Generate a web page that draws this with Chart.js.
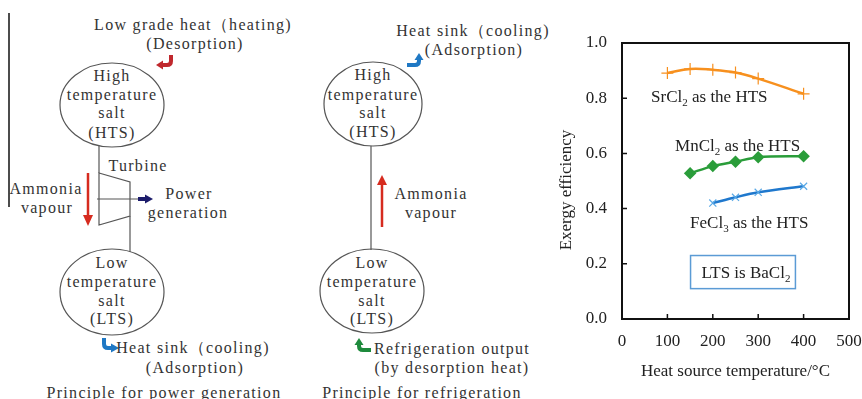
<!DOCTYPE html>
<html>
<head>
<meta charset="utf-8">
<script src="https://cdn.jsdelivr.net/npm/chart.js@4.4.1/dist/chart.umd.min.js"></script>
<style>
  html, body { margin: 0; padding: 0; background: #fff; }
  #wrap { position: relative; width: 862px; height: 399px; overflow: hidden; }
  #diagram { position: absolute; left: 0; top: 0; }
  #chartBox { position: absolute; left: 540px; top: 0; width: 322px; height: 399px; }
</style>
</head>
<body>
<div id="wrap">
<svg id="diagram" width="862" height="399">
  <g stroke="#555" stroke-width="1.2" fill="none">
    <line x1="9" y1="13" x2="9" y2="207" stroke="#111" stroke-width="1.5"/>
    <!-- power generation -->
    <ellipse cx="112" cy="105" rx="52" ry="42"/>
    <ellipse cx="112" cy="292" rx="52" ry="43"/>
    <line x1="99" y1="146" x2="99" y2="173"/>
    <polygon points="99,173 130,182 130,216 99,225"/>
    <line x1="130" y1="216" x2="130" y2="252"/>
    <line x1="97" y1="199" x2="139" y2="199"/>
    <!-- refrigeration -->
    <ellipse cx="373" cy="104" rx="49" ry="42"/>
    <ellipse cx="372" cy="291" rx="52" ry="42"/>
    <line x1="371" y1="146" x2="371" y2="250"/>
  </g>
  <!-- arrows -->
  <line x1="88" y1="173" x2="88" y2="216" stroke="#d62b1f" stroke-width="2.5"/>
  <polygon points="83,215 93,215 88,226" fill="#d62b1f"/>
  <line x1="382" y1="227" x2="382" y2="184" stroke="#d62b1f" stroke-width="2.5"/>
  <polygon points="377,185 387,185 382,175" fill="#d62b1f"/>
  <line x1="138" y1="199" x2="146" y2="199" stroke="#1c1c6b" stroke-width="4"/>
  <polygon points="145,194.5 145,203.5 153,199" fill="#1c1c6b"/>
  <g fill="none" stroke-width="4">
    <path d="M171,55 L171,61 Q171,65 167,65 L162,65" stroke="#c0282d"/>
    <path d="M104,338 L104,344 Q104,348 108,348 L112,348" stroke="#1f78c4"/>
    <path d="M407,65 L415,65 Q419,65 419,61 L419,59" stroke="#1f78c4"/>
    <path d="M371,350 L363,350 Q359,350 359,346 L359,344" stroke="#1e8a3c"/>
  </g>
  <polygon points="163,60.5 163,69.5 156,65" fill="#c0282d"/>
  <polygon points="111,343.5 111,352.5 119,348" fill="#1f78c4"/>
  <polygon points="414.5,60 423.5,60 419,53" fill="#1f78c4"/>
  <polygon points="354.5,345 363.5,345 359,338" fill="#1e8a3c"/>
  <!-- texts -->
  <g dominant-baseline="central" text-anchor="middle" font-family="Liberation Serif, serif"
     font-size="16" fill="#333" letter-spacing="1.3">
    <text x="193" y="24">Low grade heat（heating)</text>
    <text x="195" y="43">(Desorption)</text>
    <text x="112" y="75">High</text>
    <text x="112" y="94">temperature</text>
    <text x="112" y="112">salt</text>
    <text x="112" y="132">(HTS)</text>
    <text x="138" y="165">Turbine</text>
    <text x="46" y="188">Ammonia</text>
    <text x="47" y="207">vapour</text>
    <text x="189" y="193">Power</text>
    <text x="188" y="212">generation</text>
    <text x="112" y="262">Low</text>
    <text x="112" y="281">temperature</text>
    <text x="112" y="300">salt</text>
    <text x="112" y="318">(LTS)</text>
    <text x="193" y="347">Heat sink（cooling)</text>
    <text x="195" y="367">(Adsorption)</text>
    <text x="164" y="392">Principle for power generation</text>

    <text x="473" y="30">Heat sink（cooling)</text>
    <text x="474" y="49">(Adsorption)</text>
    <text x="373" y="74">High</text>
    <text x="373" y="94">temperature</text>
    <text x="373" y="112">salt</text>
    <text x="373" y="131">(HTS)</text>
    <text x="431" y="193">Ammonia</text>
    <text x="431" y="212">vapour</text>
    <text x="372" y="262">Low</text>
    <text x="372" y="281">temperature</text>
    <text x="372" y="300">salt</text>
    <text x="372" y="318">(LTS)</text>
    <text x="452" y="348">Refrigeration output</text>
    <text x="452" y="367">(by desorption heat)</text>
    <text x="422" y="392">Principle for refrigeration</text>
  </g>
</svg>
<div id="chartBox"><canvas id="chart"></canvas></div>
</div>
<script>
// Ejes
const xTicks = [0, 100, 200, 300, 400, 500];
const yTicks = [0, 0.2, 0.4, 0.6, 0.8, 1.0];

// Series (temperatura / eficiencia)
const srTemp = [100, 150, 200, 250, 300, 400];
const srEff = [0.891, 0.906, 0.903, 0.893, 0.871, 0.816];
const mnTemp = [150, 200, 250, 300, 400];
const mnEff = [0.528, 0.554, 0.570, 0.586, 0.590];
const feTemp = [200, 250, 300, 400];
const feEff = [0.420, 0.441, 0.459, 0.481];

// Etiquetas (texto, subíndice, resto)
const srLabel = ['SrCl', '2', ' as the HTS'];
const mnLabel = ['MnCl', '2', ' as the HTS'];
const feLabel = ['FeCl', '3', ' as the HTS'];
const boxLabel = ['LTS is BaCl', '2', ''];
const xTitle = 'Heat source temperature/°C';
const yTitle = 'Exergy efficiency';

const FONT = "'Liberation Serif', serif";

function toPoints(xs, ys) {
    return xs.map((x, i) => ({ x: x, y: ys[i] }));
}

function drawChem(ctx, parts, x, y) {
    ctx.font = '17px ' + FONT;
    ctx.fillText(parts[0], x, y);
    x += ctx.measureText(parts[0]).width;
    ctx.font = '11px ' + FONT;
    ctx.fillText(parts[1], x, y + 4);
    x += ctx.measureText(parts[1]).width;
    ctx.font = '17px ' + FONT;
    ctx.fillText(parts[2], x, y);
    return x + ctx.measureText(parts[2]).width;
}

const extras = {
    id: 'extras',
    afterDraw(chart) {
        const { ctx, chartArea: a, scales: { x, y } } = chart;
        ctx.save();
        // marco
        ctx.strokeStyle = '#111';
        ctx.lineWidth = 2;
        ctx.strokeRect(a.left, a.top, a.width, a.height);
        // marcas hacia dentro
        ctx.lineWidth = 1.5;
        ctx.beginPath();
        xTicks.slice(1, -1).forEach(v => {
            const px = x.getPixelForValue(v);
            ctx.moveTo(px, a.bottom);
            ctx.lineTo(px, a.bottom - 5);
        });
        yTicks.slice(1, -1).forEach(v => {
            const py = y.getPixelForValue(v);
            ctx.moveTo(a.left, py);
            ctx.lineTo(a.left + 5, py);
        });
        ctx.stroke();
        // titulo eje y
        ctx.fillStyle = '#222';
        ctx.font = '17px ' + FONT;
        ctx.textAlign = 'center';
        ctx.textBaseline = 'middle';
        ctx.save();
        ctx.translate(a.left - 55, (a.top + a.bottom) / 2 + 9);
        ctx.rotate(-Math.PI / 2);
        ctx.fillText(yTitle, 0, 0);
        ctx.restore();
        // textos
        ctx.textAlign = 'left';
        ctx.textBaseline = 'alphabetic';
        drawChem(ctx, srLabel, x.getPixelForValue(64), y.getPixelForValue(0.785));
        drawChem(ctx, mnLabel, x.getPixelForValue(117), y.getPixelForValue(0.608));
        drawChem(ctx, feLabel, x.getPixelForValue(150), y.getPixelForValue(0.329));
        // recuadro
        const bx = x.getPixelForValue(151), by = y.getPixelForValue(0.23);
        const bw = x.getPixelForValue(382) - bx, bh = y.getPixelForValue(0.11) - by;
        ctx.strokeStyle = '#5b9bd5';
        ctx.lineWidth = 1.5;
        ctx.strokeRect(bx, by, bw, bh);
        drawChem(ctx, boxLabel, x.getPixelForValue(175), y.getPixelForValue(0.149));
        ctx.restore();
    }
};

new Chart(document.getElementById('chart'), {
    type: 'line',
    data: {
        datasets: [
            {
                data: toPoints(srTemp, srEff),
                borderColor: '#f7901e',
                borderWidth: 2.5,
                pointStyle: 'cross',
                pointRadius: 6,
                pointBorderWidth: 1.2,
                tension: 0.4
            },
            {
                data: toPoints(mnTemp, mnEff),
                borderColor: '#2a9d3a',
                backgroundColor: '#2a9d3a',
                borderWidth: 2.5,
                pointStyle: 'rectRot',
                pointRadius: 4.5,
                pointBackgroundColor: '#2a9d3a',
                tension: 0.3
            },
            {
                data: toPoints(feTemp, feEff),
                borderColor: '#1f78cd',
                borderWidth: 2.5,
                pointStyle: 'crossRot',
                pointRadius: 5,
                pointBorderColor: '#5aa9e6',
                pointBorderWidth: 1.2,
                tension: 0.3
            }
        ]
    },
    options: {
        responsive: true,
        maintainAspectRatio: false,
        animation: false,
        layout: { padding: { top: 43, right: 13, left: 0, bottom: 0 } },
        plugins: { legend: { display: false }, tooltip: { enabled: false } },
        scales: {
            x: {
                type: 'linear',
                min: 0,
                max: 500,
                afterFit: s => { s.height = 80; s.paddingLeft = 0; s.paddingRight = 0; },
                afterBuildTicks: s => { s.ticks = xTicks.map(v => ({ value: v })); },
                grid: { display: false, drawTicks: false },
                border: { display: false },
                ticks: { padding: 12, color: '#222', font: { family: FONT, size: 17 } },
                title: {
                    display: true,
                    text: xTitle,
                    color: '#222',
                    font: { family: FONT, size: 17 },
                    padding: { top: 0, bottom: 17 }
                }
            },
            y: {
                min: 0,
                max: 1,
                afterFit: s => { s.width = 82; },
                afterBuildTicks: s => { s.ticks = yTicks.map(v => ({ value: v })); },
                grid: { display: false, drawTicks: false },
                border: { display: false },
                ticks: {
                    padding: 15,
                    color: '#222',
                    font: { family: FONT, size: 17 },
                    callback: v => v.toFixed(1)
                }
            }
        }
    },
    plugins: [extras]
});
</script>
</body>
</html>
